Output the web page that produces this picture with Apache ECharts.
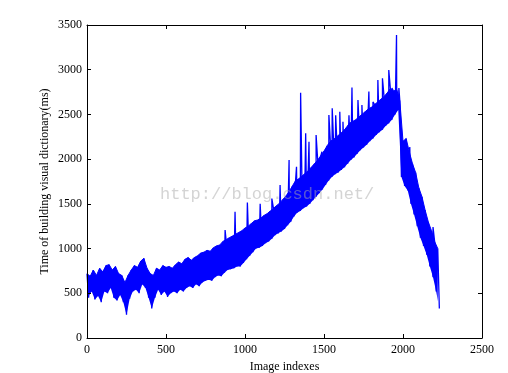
<!DOCTYPE html>
<html>
<head>
<meta charset="utf-8">
<script src="https://cdn.jsdelivr.net/npm/echarts@6/dist/echarts.min.js"></script>
<style>html,body{margin:0;padding:0;background:#fff;}#chart{width:508px;height:373px;}</style>
</head>
<body>
<div id="chart"></div>
<script>
// Sampling step (image indexes) of the envelope readings: upper edge read at i*STEP, lower edge at i*STEP+STEP/2
const STEP = 20;
const upperEnvelope = [
  720, 690, 760, 700, 780, 740, 810, 820, 760, 800,
  720, 700, 620, 700, 760, 810, 790, 860, 890, 780,
  720, 700, 780, 760, 810, 790, 800, 780, 820, 850,
  830, 880, 900, 870, 900, 920, 950, 960, 980, 970,
  1010, 1030, 1040, 1080, 1100, 1120, 1140, 1160, 1180, 1200,
  1230, 1250, 1280, 1310, 1320, 1340, 1370, 1390, 1420, 1450,
  1480, 1510, 1550, 1590, 1640, 1700, 1760, 1780, 1810, 1840,
  1870, 1910, 1950, 1990, 2040, 2090, 2150, 2200, 2220, 2250,
  2280, 2310, 2350, 2400, 2420, 2440, 2470, 2500, 2530, 2560,
  2580, 2610, 2640, 2670, 2700, 2740, 2790, 2760, 2780, 2650,
  2200, 2230, 2080, 1950, 1850, 1680, 1580, 1430, 1300, 1200,
  1080, 1000
];
const lowerEnvelope = [
  450, 520, 430, 470, 400, 520, 500, 560, 450, 420,
  480, 400, 260, 440, 520, 540, 500, 600, 560, 450,
  330, 450, 540, 480, 520, 460, 500, 520, 500, 540,
  520, 560, 580, 560, 600, 580, 620, 640, 650, 640,
  680, 700, 690, 730, 760, 770, 780, 800, 800, 840,
  880, 920, 960, 1000, 1010, 1030, 1060, 1080, 1110, 1150,
  1170, 1190, 1220, 1260, 1300, 1360, 1400, 1420, 1450, 1470,
  1500, 1540, 1580, 1620, 1660, 1710, 1760, 1800, 1830, 1850,
  1880, 1910, 1950, 1990, 2020, 2060, 2100, 2130, 2160, 2200,
  2230, 2270, 2300, 2330, 2370, 2400, 2440, 2500, 2550, 1800,
  1700, 1650, 1500, 1380, 1250, 1120, 1030, 930, 800, 680,
  520, 330
];
// Isolated upward spikes
const spikeIndexes = [874, 937, 1015, 1096, 1170, 1222, 1279, 1326, 1352, 1384, 1405, 1450, 1487, 1531, 1552, 1574, 1600, 1620, 1658, 1677, 1715, 1740, 1784, 1810, 1841, 1870, 1910, 1930, 1959, 1974, 2043, 2190];
const spikeValues  = [1207, 1412, 1515, 1500, 1560, 1710, 1990, 1915, 2743, 2290, 2195, 2270, 2083, 2493, 2570, 2490, 2530, 2418, 2490, 2800, 2660, 2605, 2755, 2640, 2885, 2905, 2996, 2795, 3388, 2795, 2135, 1240];

const xTicks = { min: 0, max: 2500, interval: 500 };
const yTicks = { min: 0, max: 3500, interval: 500 };

const upperPts = upperEnvelope.map((v, i) => [i * STEP, v]);
const lowerPts = lowerEnvelope.map((v, i) => [i * STEP + STEP / 2, v]);
const lowerFill = [[0, lowerEnvelope[0]]].concat(lowerPts);
const points = [];
for (let i = 0; i < upperEnvelope.length; i++) {
  points.push(upperPts[i]);
  points.push(lowerPts[i]);
}
for (let k = 0; k < spikeIndexes.length; k++) points.push([spikeIndexes[k], spikeValues[k]]);
points.sort((a, b) => a[0] - b[0]);

const FONT = 'Liberation Serif';
const BLUE = '#0000ff';
const axisCommon = {
  type: 'value',
  z: 10,
  splitLine: { show: false },
  axisLine: { show: true, onZero: false, lineStyle: { color: '#000', width: 1 } },
  axisTick: { show: true, inside: true, length: 4, lineStyle: { color: '#000' } }
};
const fmt = v => String(v);

const chart = echarts.init(document.getElementById('chart'), null, { renderer: 'canvas' });
chart.setOption({
  animation: false,
  backgroundColor: '#fff',
  grid: { left: 87, right: 26, top: 25, bottom: 35, outerBoundsMode: 'none', containLabel: false },
  xAxis: [
    Object.assign({}, axisCommon, {
      position: 'bottom', min: xTicks.min, max: xTicks.max, interval: xTicks.interval,
      name: 'Image indexes', nameLocation: 'middle', nameGap: 21,
      nameTextStyle: { fontFamily: FONT, fontSize: 12, color: '#000' },
      axisLabel: { fontFamily: FONT, fontSize: 12, color: '#000', margin: 6, formatter: fmt }
    }),
    Object.assign({}, axisCommon, {
      position: 'top', min: xTicks.min, max: xTicks.max, interval: xTicks.interval,
      axisLabel: { show: false }
    })
  ],
  yAxis: [
    Object.assign({}, axisCommon, {
      position: 'left', min: yTicks.min, max: yTicks.max, interval: yTicks.interval,
      name: 'Time of building visual dictionary(ms)', nameLocation: 'middle', nameGap: 36,
      nameMoveOverlap: false,
      nameTextStyle: { fontFamily: FONT, fontSize: 12, color: '#000' },
      axisLabel: { fontFamily: FONT, fontSize: 12, color: '#000', margin: 5, formatter: fmt }
    }),
    Object.assign({}, axisCommon, {
      position: 'right', min: yTicks.min, max: yTicks.max, interval: yTicks.interval,
      axisLabel: { show: false }
    })
  ],
  series: [
    {
      type: 'line', data: upperPts, symbol: 'none', silent: true,
      lineStyle: { color: BLUE, width: 1 },
      areaStyle: { color: BLUE, opacity: 1, origin: 'start' },
      z: 1
    },
    {
      type: 'line', data: lowerFill, symbol: 'none', silent: true,
      lineStyle: { width: 0, opacity: 0 },
      areaStyle: { color: '#fff', opacity: 1, origin: 'start' },
      z: 2
    },
    {
      type: 'line', data: points, symbol: 'none', showSymbol: false, sampling: null,
      lineStyle: { color: BLUE, width: 1.3 },
      z: 3
    }
  ],
  graphic: [{
    type: 'text',
    left: 160, top: 186,
    z: 100,
    style: {
      text: 'http://blog.csdn.net/',
      font: '17px "Liberation Mono"',
      fill: 'rgba(170,170,170,0.5)'
    }
  }]
});
</script>
</body>
</html>
